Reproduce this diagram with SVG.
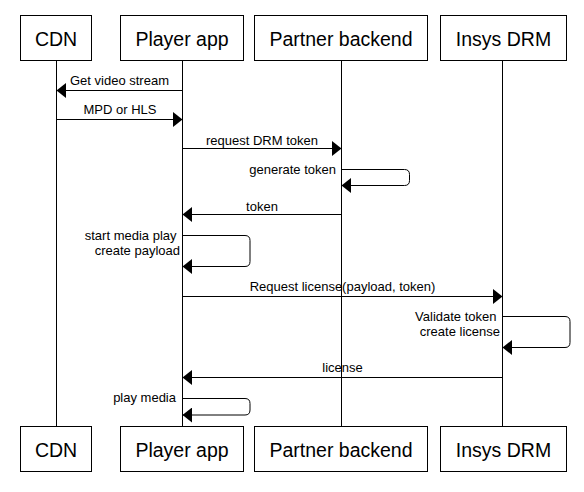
<svg xmlns="http://www.w3.org/2000/svg" width="584" height="492" viewBox="0 0 584 492">
<style>
.box{fill:#fff;stroke:#000;stroke-width:1}
.title{font-family:"Liberation Sans",Arial,sans-serif;font-size:19.5px;text-anchor:middle;fill:#000}
.life{stroke:#000;stroke-width:1;fill:none}
.msg{stroke:#000;stroke-width:1;fill:none;marker-end:url(#arr)}
.lbl{font-family:"Liberation Sans",Arial,sans-serif;font-size:13px;fill:#000}
.c{text-anchor:middle}
.r{text-anchor:end}
</style>
<defs>
<marker id="arr" markerUnits="userSpaceOnUse" markerWidth="10" markerHeight="15" refX="9.5" refY="7.5" orient="auto" viewBox="0 0 10 15"><path d="M0,0 L9.5,7.5 L0,15 Z" fill="#000"/></marker>
</defs>
<rect width="584" height="492" fill="#fff"/>
<g id="cdn">
<line class="life" x1="56.5" y1="60.5" x2="56.5" y2="426.5"/>
<rect class="box" x="20.5" y="15.5" width="71" height="45"/>
<text class="title" x="56" y="46">CDN</text>
<rect class="box" x="20.5" y="426.5" width="71" height="45"/>
<text class="title" x="56" y="457">CDN</text>
</g>
<g id="player">
<line class="life" x1="182.5" y1="60.5" x2="182.5" y2="426.5"/>
<rect class="box" x="120.5" y="15.5" width="123" height="45"/>
<text class="title" x="182" y="46">Player app</text>
<rect class="box" x="120.5" y="426.5" width="123" height="45"/>
<text class="title" x="182" y="457">Player app</text>
</g>
<g id="partner">
<line class="life" x1="341.5" y1="60.5" x2="341.5" y2="426.5"/>
<rect class="box" x="254.5" y="15.5" width="173" height="45"/>
<text class="title" x="341" y="46">Partner backend</text>
<rect class="box" x="254.5" y="426.5" width="173" height="45"/>
<text class="title" x="341" y="457">Partner backend</text>
</g>
<g id="insys">
<line class="life" x1="502.5" y1="60.5" x2="502.5" y2="426.5"/>
<rect class="box" x="440.5" y="15.5" width="126" height="45"/>
<text class="title" x="503.5" y="46">Insys DRM</text>
<rect class="box" x="440.5" y="426.5" width="126" height="45"/>
<text class="title" x="503.5" y="457">Insys DRM</text>
</g>
<g id="connectors">
<path class="msg" d="M182.5,90.5 H56.5"/>
<text class="lbl c" x="119.5" y="84.5">Get video stream</text>
<path class="msg" d="M56.5,119.5 H182.5"/>
<text class="lbl c" x="120" y="114">MPD or HLS</text>
<path class="msg" d="M182.5,148.5 H341.5"/>
<text class="lbl c" x="262" y="144.5">request DRM token</text>
<path class="msg" d="M341.5,169.5 H404.5 Q409.5,169.5 409.5,174.5 V180.5 Q409.5,185.5 404.5,185.5 H341.5"/>
<text class="lbl r" x="336" y="173.5">generate token</text>
<path class="msg" d="M341.5,214.5 H182.5"/>
<text class="lbl c" x="262" y="210.5">token</text>
<path class="msg" d="M182.5,235.5 H245 Q250,235.5 250,240.5 V261.5 Q250,266.5 245,266.5 H182.5"/>
<text class="lbl r" x="176.5" y="239.5">start media play</text>
<text class="lbl r" x="180" y="254.5">create payload</text>
<path class="msg" d="M182.5,296.5 H502.5"/>
<text class="lbl c" x="342.5" y="291">Request license(payload, token)</text>
<path class="msg" d="M502.5,316.5 H565 Q570,316.5 570,321.5 V342.5 Q570,347.5 565,347.5 H502.5"/>
<text class="lbl r" x="496.5" y="320.5">Validate token</text>
<text class="lbl r" x="500" y="335.5">create license</text>
<path class="msg" d="M502.5,377.5 H182.5"/>
<text class="lbl c" x="342.5" y="372">license</text>
<path class="msg" d="M182.5,398.5 H245 Q250,398.5 250,403.5 V410 Q250,415 245,415 H182.5"/>
<text class="lbl r" x="176" y="402">play media</text>
</g>
</svg>
